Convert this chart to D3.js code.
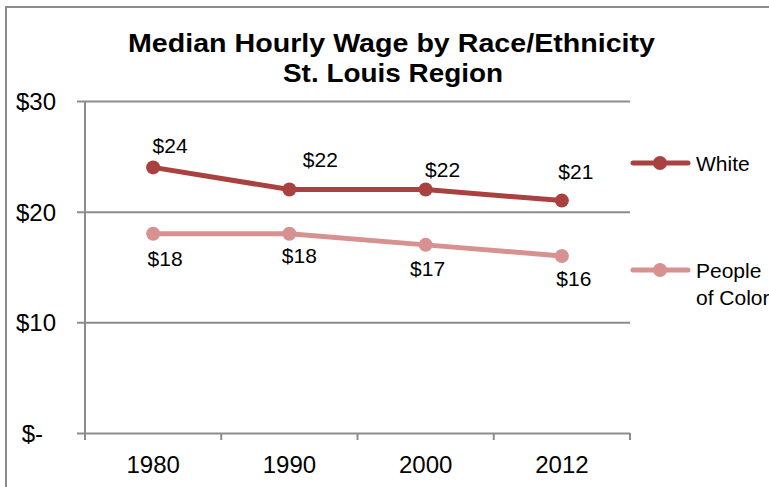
<!DOCTYPE html>
<html>
<head>
<meta charset="utf-8">
<script src="https://cdn.jsdelivr.net/npm/d3@7"></script>
<style>
  body { margin: 0; background: #fff; }
  svg { display: block; font-family: "Liberation Sans", Arial, sans-serif; }
</style>
</head>
<body>
<script>
const years = ["1980", "1990", "2000", "2012"];
const white = [24, 22, 22, 21];
const peopleOfColor = [18, 18, 17, 16];
const yTicks = [0, 10, 20, 30];
const seriesNames = ["White", "People of Color"];

const w = 769, h = 487;
const plotLeft = 85, plotRight = 630, plotTop = 101, plotBottom = 433;

const svg = d3.select("body").append("svg")
  .attr("width", w)
  .attr("height", h);

// outer chart border (runs past the picture on right / bottom)
svg.append("rect")
  .attr("x", 6).attr("y", 7)
  .attr("width", 800).attr("height", 520)
  .attr("fill", "none")
  .attr("stroke", "#8c8c8c")
  .attr("stroke-width", 2);

svg.append("text")
  .attr("x", 128).attr("y", 52)
  .attr("font-size", 25).attr("font-weight", "bold")
  .attr("textLength", 527).attr("lengthAdjust", "spacingAndGlyphs")
  .text("Median Hourly Wage by Race/Ethnicity");
svg.append("text")
  .attr("x", 283).attr("y", 82)
  .attr("font-size", 25).attr("font-weight", "bold")
  .attr("textLength", 220).attr("lengthAdjust", "spacingAndGlyphs")
  .text("St. Louis Region");

const x = d3.scaleBand().domain(years).range([plotLeft, plotRight]);
const y = d3.scaleLinear().domain([0, 30]).range([plotBottom, plotTop]);

// gridlines + y axis
const yAxis = d3.axisLeft(y).tickValues(yTicks).tickSize(-(plotRight - plotLeft + 8))
  .tickFormat(d => d === 0 ? "$-" : "$" + d);
const gy = svg.append("g")
  .attr("transform", "translate(" + (plotLeft - 8) + ",0)")
  .call(yAxis);
gy.select(".domain").remove();
gy.selectAll(".tick line")
  .attr("stroke", "#8c8c8c").attr("stroke-width", 2);
gy.selectAll(".tick text")
  .attr("x", -21)
  .attr("dx", d => d === 0 ? -13 : 0)
  .attr("dy", "0.36em")
  .attr("font-size", 24)
  .attr("fill", "#000")
  .attr("font-family", "Liberation Sans, Arial, sans-serif");

// vertical axis line
svg.append("line")
  .attr("x1", plotLeft).attr("x2", plotLeft)
  .attr("y1", plotTop).attr("y2", plotBottom + 7)
  .attr("stroke", "#8c8c8c").attr("stroke-width", 2);

// x axis with category boundary ticks
const xAxis = d3.axisBottom(x).tickSize(0);
const gx = svg.append("g")
  .attr("transform", "translate(0," + plotBottom + ")")
  .call(xAxis);
gx.select(".domain").remove();
gx.selectAll(".tick text")
  .attr("y", 40)
  .attr("dy", null)
  .attr("font-size", 24)
  .attr("fill", "#000")
  .attr("font-family", "Liberation Sans, Arial, sans-serif");
svg.selectAll(".xb")
  .data(years.concat(["end"]))
  .enter().append("line")
  .attr("x1", (d, i) => i < years.length ? x(d) : plotRight)
  .attr("x2", (d, i) => i < years.length ? x(d) : plotRight)
  .attr("y1", plotBottom).attr("y2", plotBottom + 7)
  .attr("stroke", "#8c8c8c").attr("stroke-width", 2);

const colors = ["#a8413f", "#d69190"];
const allSeries = [white, peopleOfColor];
const cx = d => x(d) + x.bandwidth() / 2;

const line = d3.line()
  .x((d, i) => cx(years[i]))
  .y(d => y(d));

allSeries.forEach((vals, s) => {
  svg.append("path")
    .datum(vals)
    .attr("d", line)
    .attr("fill", "none")
    .attr("stroke", colors[s])
    .attr("stroke-width", 5);
  svg.selectAll(".pt" + s)
    .data(vals)
    .enter().append("circle")
    .attr("cx", (d, i) => cx(years[i]))
    .attr("cy", d => y(d))
    .attr("r", 7)
    .attr("fill", colors[s]);
});

// data labels, nudged like the original hand-placed ones
const whiteNudge = [[17, -14], [31, -23], [17, -13], [14, -22]];
const pocNudge = [[12, 32], [10, 29], [2, 31], [12, 30]];
const nudges = [whiteNudge, pocNudge];
allSeries.forEach((vals, s) => {
  svg.selectAll(".lbl" + s)
    .data(vals)
    .enter().append("text")
    .attr("x", (d, i) => cx(years[i]) + nudges[s][i][0])
    .attr("y", (d, i) => y(d) + nudges[s][i][1])
    .attr("text-anchor", "middle")
    .attr("font-size", 21)
    .text(d => "$" + d);
});

// legend
const legY = [163, 270];
seriesNames.forEach((name, s) => {
  const g = svg.append("g").attr("transform", "translate(633," + legY[s] + ")");
  g.append("line").attr("x1", 0).attr("x2", 55)
    .attr("stroke", colors[s]).attr("stroke-width", 5)
    .attr("stroke-linecap", "round");
  g.append("circle").attr("cx", 27).attr("r", 7).attr("fill", colors[s]);
  const t = g.append("text").attr("x", 63).attr("y", 8).attr("font-size", 21);
  const parts = name === "People of Color" ? ["People", "of Color"] : [name];
  parts.forEach((p, k) => {
    t.append("tspan").attr("x", 63).attr("dy", k === 0 ? 0 : 27).text(p);
  });
});
</script>
</body>
</html>
